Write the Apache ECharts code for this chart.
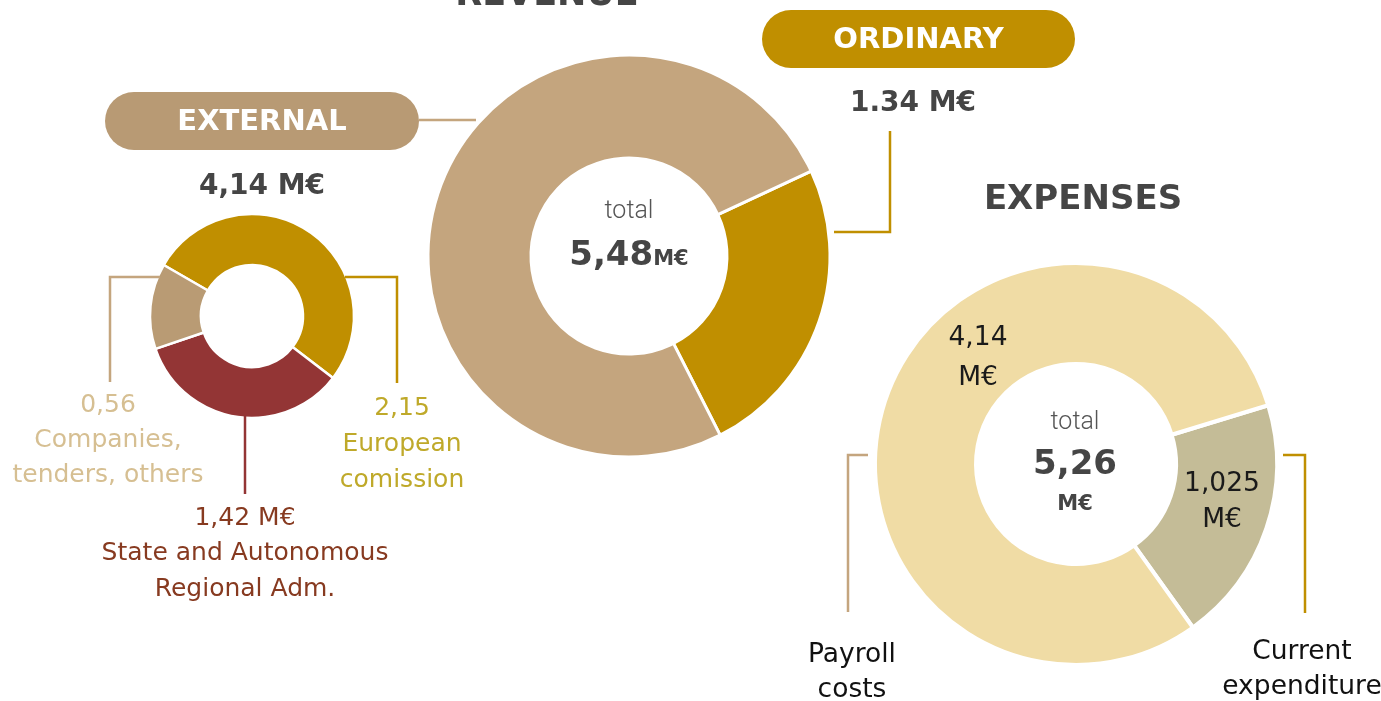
<!DOCTYPE html>
<html>
<head>
<meta charset="utf-8">
<script src="https://cdn.jsdelivr.net/npm/echarts@6/dist/echarts.min.js"></script>
<style>
  html, body { margin: 0; padding: 0; background: #fff; }
  #chart { width: 1381px; height: 701px; }
</style>
</head>
<body>
<div id="chart"></div>
<script>
// revenue split (M€)
const revenueNames = ['Ordinary', 'External'];
const revenueValues = [1.34, 4.14];
const revenueTotal = '5,48';

// external revenue breakdown (M€)
const externalNames = ['European comission', 'State and Autonomous Regional Adm.', 'Companies, tenders, others'];
const externalValues = [2.15, 1.42, 0.56];
const externalTotal = '4,14';

// expenses (M€)
const expenseNames = ['Current expenditure', 'Payroll costs'];
const expenseValues = [1.025, 4.14];
const expenseTotal = '5,26';

const FONT = 'DejaVu Sans';
const dark = '#454545';
const gold = '#c08f00';
const tan = '#c4a57e';
const red = '#933535';

function fmt(v) { return String(v).replace('.', ','); }

const chart = echarts.init(document.getElementById('chart'));

function line(points, color) {
  return {
    type: 'polyline', z: 100,
    shape: { points: points },
    style: { stroke: color, lineWidth: 2.5, fill: null }
  };
}
function txt(x, y, s, size, color, weight, family) {
  return {
    type: 'text', z: 100,
    x: x, y: y,
    style: {
      text: s, fontSize: size, fill: color, fontFamily: family || FONT,
      fontWeight: weight || 'normal', align: 'center', verticalAlign: 'middle'
    }
  };
}
function pill(x, y, w, h, color, label) {
  return [
    { type: 'rect', z: 90, shape: { x: x, y: y, width: w, height: h, r: h / 2 }, style: { fill: color } },
    txt(x + w / 2, y + h / 2 + 1, label, 29, '#fff', 'bold')
  ];
}

const option = {
  backgroundColor: '#fff',
  animation: false,
  series: [
    {
      name: 'Revenue',
      type: 'pie',
      center: [629, 256],
      radius: [98, 201],
      startAngle: 25,
      label: { show: false },
      labelLine: { show: false },
      itemStyle: { borderColor: '#fff', borderWidth: 3 },
      data: revenueNames.map((n, i) => ({
        name: n, value: revenueValues[i],
        itemStyle: { color: [gold, tan][i] }
      }))
    },
    {
      name: 'External',
      type: 'pie',
      center: [252, 316],
      radius: [51, 102],
      startAngle: 150,
      label: { show: false },
      labelLine: { show: false },
      itemStyle: { borderColor: '#fff', borderWidth: 2.5 },
      data: externalNames.map((n, i) => ({
        name: n, value: externalValues[i],
        itemStyle: { color: [gold, red, '#b99b74'][i] }
      }))
    },
    {
      name: 'Expenses',
      type: 'pie',
      center: [1076, 464],
      radius: [100, 201],
      startAngle: 17,
      label: { show: false },
      labelLine: { show: false },
      itemStyle: { borderColor: '#fff', borderWidth: 4 },
      data: expenseNames.map((n, i) => ({
        name: n, value: expenseValues[i],
        itemStyle: { color: ['#c4bc97', '#f0dca5'][i] }
      }))
    }
  ],
  graphic: [
    // titles
    txt(547, -4, 'REVENUE', 35, dark, 'bold'),
    txt(1083, 200, 'EXPENSES', 34, dark, 'bold'),
    // pills
    ...pill(105, 92, 314, 58, '#b89a74', 'EXTERNAL'),
    ...pill(762, 10, 313, 58, gold, 'ORDINARY'),
    line([[419, 120], [476, 120]], tan),
    // ordinary label + leader
    txt(913, 104, revenueValues[0].toFixed(2) + ' M€', 28, dark, 'bold'),
    line([[890, 131], [890, 232], [834, 232]], gold),
    // revenue centre
    txt(629, 212, 'total', 25, '#555', 300, 'Roboto'),
    {
      type: 'text', x: 629, y: 256, z: 100,
      style: {
        text: '{a|' + revenueTotal + '}{b|M€}', align: 'center', verticalAlign: 'middle',
        rich: {
          a: { fontSize: 34, fontWeight: 'bold', fill: dark, fontFamily: FONT },
          b: { fontSize: 21, fontWeight: 'bold', fill: dark, fontFamily: FONT, padding: [8, 0, 0, 0] }
        }
      }
    },
    // external total
    txt(262, 187, externalTotal + ' M€', 28, dark, 'bold'),
    // external leaders
    line([[160, 277], [110, 277], [110, 382]], tan),
    line([[345, 277], [397, 277], [397, 383]], gold),
    line([[245, 416], [245, 494]], red),
    // external labels
    txt(108, 405, fmt(externalValues[2]), 25, '#d6bf92'),
    txt(108, 440, 'Companies,', 25, '#d6bf92'),
    txt(108, 475, 'tenders, others', 25, '#d6bf92'),
    txt(402, 408, fmt(externalValues[0]), 25, '#bfa92a'),
    txt(402, 444, 'European', 25, '#bfa92a'),
    txt(402, 480, 'comission', 25, '#bfa92a'),
    txt(245, 518, fmt(externalValues[1]) + ' M€', 25, '#873a20'),
    txt(245, 553, 'State and Autonomous', 25, '#873a20'),
    txt(245, 589, 'Regional Adm.', 25, '#873a20'),
    // expenses centre
    txt(1075, 423, 'total', 25, '#555', 300, 'Roboto'),
    txt(1075, 465, expenseTotal, 34, dark, 'bold'),
    txt(1075, 505, 'M€', 21, dark, 'bold'),
    // expenses segment labels
    txt(978, 338, fmt(expenseValues[1]), 26.5, '#1a1a1a'),
    txt(978, 378, 'M€', 26.5, '#1a1a1a'),
    txt(1222, 484, fmt(expenseValues[0]), 26.5, '#1a1a1a'),
    txt(1222, 520, 'M€', 26.5, '#1a1a1a'),
    // expenses leaders
    line([[868, 455], [848, 455], [848, 612]], tan),
    line([[1283, 455], [1305, 455], [1305, 613]], gold),
    txt(852, 655, 'Payroll', 26.5, '#111'),
    txt(852, 690, 'costs', 26.5, '#111'),
    txt(1302, 652, 'Current', 26.5, '#111'),
    txt(1302, 687, 'expenditure', 26.5, '#111')
  ]
};

chart.setOption(option);
</script>
</body>
</html>
